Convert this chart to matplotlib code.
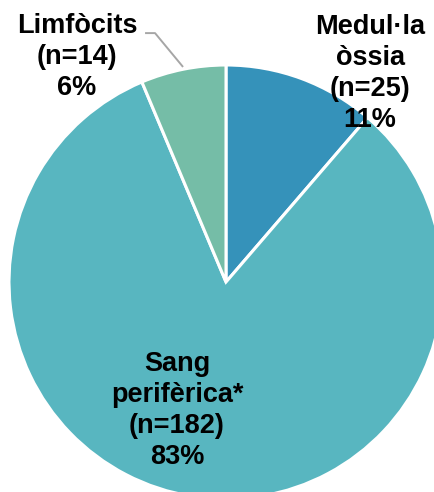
import matplotlib
matplotlib.use("Agg")
import matplotlib.pyplot as plt

# ---------------------------------------------------------------------------
# Data
# ---------------------------------------------------------------------------
categories = ["Medul·la\nòssia", "Sang\nperifèrica*", "Limfòcits"]
counts = [25, 182, 14]
percents = [11, 83, 6]
colors = ["#3592ba", "#58b6c0", "#75bda7"]

# label centres in pie-radius units, and the leader line for Limfòcits
label_pos = [(0.664, 0.960), (-0.226, -0.590), (-0.687, 1.037)]
leader = ([-0.373, -0.327, -0.198], [1.147, 1.147, 0.991])

W, H = 434, 492
R_PX = 217
CX, CY = 226, 282   # pie centre in pixels (from top-left)

plt.rcParams["font.family"] = ["Liberation Sans", "DejaVu Sans"]

fig = plt.figure(figsize=(W / 100, H / 100), dpi=100)
ax = fig.add_axes([0, 0, 1, 1])

ax.pie(counts, colors=colors, startangle=90, counterclock=False,
       radius=1.0, wedgeprops=dict(edgecolor="white", linewidth=2.2))

for name, n, pct, (x, y) in zip(categories, counts, percents, label_pos):
    ax.text(x, y, f"{name}\n(n={n})\n{pct}%", ha="center", va="center",
            fontsize=19.5, fontweight="bold", color="black", linespacing=1.25)

ax.plot(leader[0], leader[1], color="#a6a6a6", linewidth=1.4,
        solid_capstyle="butt")

ax.set_aspect("auto")
ax.set_xlim(-CX / R_PX, (W - CX) / R_PX)
ax.set_ylim(-(H - CY) / R_PX, CY / R_PX)
ax.axis("off")

fig.savefig("out.png", dpi=100)
